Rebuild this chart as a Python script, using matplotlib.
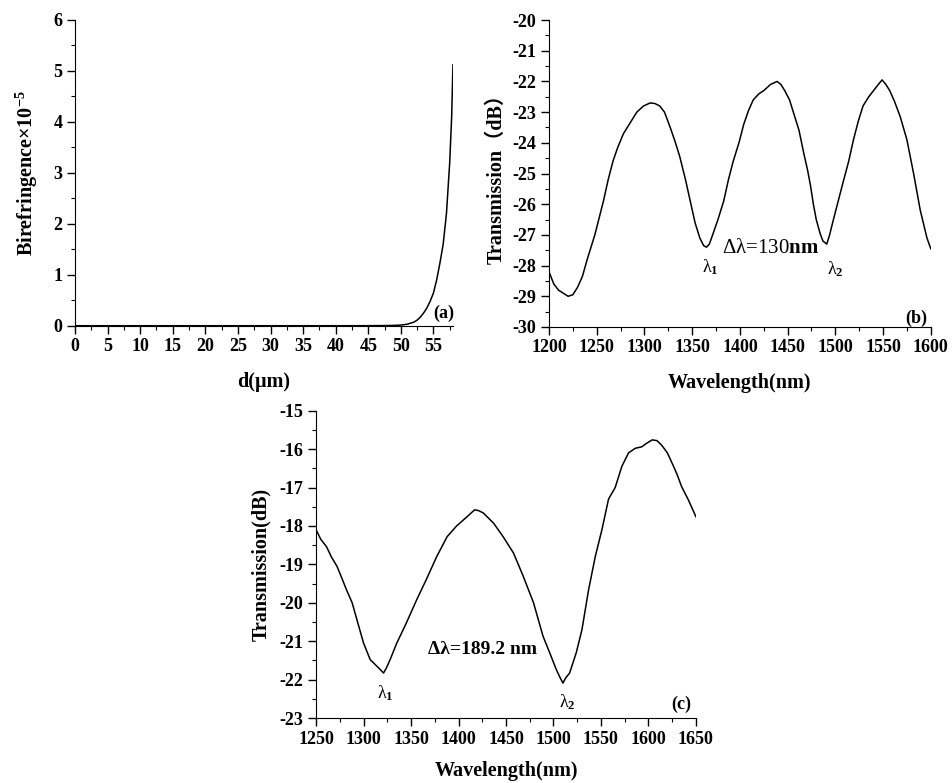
import matplotlib
matplotlib.use('Agg')
from matplotlib import pyplot as plt
from matplotlib.ticker import MultipleLocator

# panel (a): birefringence vs d
d_um = [0, 10, 20, 30, 40, 45, 48, 49, 50, 51, 52, 52.5, 53, 53.5, 54, 54.5,
        55, 55.5, 56, 56.5, 57, 57.5, 57.8, 58]
biref = [0, 0, 0, 0, 0, 0.001, 0.004, 0.007, 0.013, 0.03, 0.07, 0.11, 0.17, 0.25,
         0.35, 0.48, 0.64, 0.9, 1.23, 1.6, 2.2, 3.2, 4.1, 5.12]

# panel (b): transmission spectrum
wl_b = [1200, 1205, 1210, 1215, 1220, 1225, 1230, 1235, 1240, 1248, 1257, 1262, 1267,
        1272, 1278, 1285, 1292, 1299, 1306, 1311, 1316, 1321, 1327, 1332, 1337, 1343,
        1348, 1353, 1358, 1362, 1365, 1368, 1372, 1377, 1383, 1388, 1393, 1399, 1404,
        1409, 1414, 1420, 1425, 1432, 1439, 1443, 1447, 1452, 1456, 1462, 1467, 1471,
        1474, 1477, 1480, 1484, 1487, 1491, 1494, 1498, 1503, 1508, 1514, 1519, 1524,
        1529, 1535, 1540, 1545, 1549, 1553, 1557, 1562, 1568, 1575, 1582, 1589, 1596, 1600]
tr_b = [-28.2, -28.6, -28.8, -28.9, -29.0, -28.95, -28.7, -28.35, -27.8, -27.0, -25.9,
        -25.2, -24.6, -24.15, -23.7, -23.35, -23.0, -22.8, -22.7, -22.72, -22.8, -23.0,
        -23.5, -23.95, -24.45, -25.2, -25.9, -26.6, -27.1, -27.35, -27.4, -27.3, -26.95,
        -26.5, -25.9, -25.2, -24.6, -24.0, -23.4, -22.95, -22.6, -22.4, -22.3, -22.1,
        -22.0, -22.1, -22.3, -22.6, -23.0, -23.6, -24.35, -24.9, -25.4, -26.0, -26.5,
        -26.95, -27.2, -27.3, -27.0, -26.5, -25.9, -25.3, -24.6, -23.9, -23.3, -22.8,
        -22.5, -22.3, -22.1, -21.95, -22.1, -22.3, -22.65, -23.15, -23.9, -25.0, -26.2,
        -27.1, -27.45]

# panel (c): transmission spectrum
wl_c = [1250, 1255, 1261, 1266, 1272, 1277, 1282, 1288, 1293, 1300, 1307, 1314, 1318,
        1321, 1324, 1328, 1335, 1345, 1356, 1366, 1377, 1388, 1398, 1409, 1417, 1421,
        1426, 1437, 1447, 1458, 1468, 1479, 1489, 1496, 1503, 1507, 1510, 1513, 1517,
        1524, 1530, 1537, 1544, 1551, 1558, 1565, 1572, 1579, 1586, 1593, 1598, 1604,
        1609, 1614, 1620, 1625, 1630, 1635, 1642, 1650]
tr_c = [-18.1, -18.35, -18.54, -18.8, -19.05, -19.35, -19.66, -20.0, -20.44, -21.05,
        -21.48, -21.65, -21.75, -21.83, -21.7, -21.48, -21.05, -20.53, -19.92, -19.4,
        -18.8, -18.28, -18.0, -17.76, -17.58, -17.6, -17.66, -17.93, -18.28, -18.71,
        -19.3, -20.0, -20.87, -21.3, -21.74, -21.95, -22.09, -21.95, -21.83, -21.3,
        -20.7, -19.66, -18.8, -18.1, -17.3, -17.0, -16.45, -16.1, -15.98, -15.94,
        -15.85, -15.76, -15.78, -15.9, -16.1, -16.37, -16.65, -16.98, -17.32, -17.76]

plt.rcParams['font.family'] = ['Liberation Serif', 'DejaVu Serif']
plt.rcParams['font.weight'] = 'bold'
plt.rcParams['axes.unicode_minus'] = False
plt.rcParams['mathtext.fontset'] = 'custom'
plt.rcParams['mathtext.rm'] = 'Liberation Serif'
plt.rcParams['mathtext.bf'] = 'Liberation Serif:bold'
plt.rcParams['mathtext.it'] = 'Liberation Serif:italic'

tick_fs = 13
label_fs = 14.5


def style_axis(ax):
    ax.spines['top'].set_visible(False)
    ax.spines['right'].set_visible(False)
    ax.tick_params(which='major', direction='out', length=6, width=1, labelsize=tick_fs, pad=3)
    ax.tick_params(which='minor', direction='out', length=3, width=0.8)
    for lbl in ax.get_xticklabels() + ax.get_yticklabels():
        lbl.set_fontweight('bold')


fig = plt.figure(figsize=(9.52, 7.83), dpi=100)

# (a)
ax1 = fig.add_axes([0.0788, 0.584, 0.397, 0.3905])
ax1.plot(d_um, biref, color='black', lw=1.1)
ax1.set_xlim(0, 58)
ax1.set_ylim(0, 6)
ax1.xaxis.set_major_locator(MultipleLocator(5))
ax1.xaxis.set_minor_locator(MultipleLocator(2.5))
ax1.yaxis.set_major_locator(MultipleLocator(1))
ax1.yaxis.set_minor_locator(MultipleLocator(0.5))
style_axis(ax1)
ax1.set_xlabel('d(μm)', fontsize=label_fs, fontweight='bold', labelpad=12)
ax1.set_ylabel(r'Birefringence×10$^{\mathbf{-5}}$', fontsize=label_fs, fontweight='bold', labelpad=10)
ax1.text(56.6, 0.24, '(a)', fontsize=13, fontweight='bold', ha='center', va='center')

# (b)
ax2 = fig.add_axes([0.5767, 0.5824, 0.401, 0.392])
ax2.plot(wl_b, tr_b, color='black', lw=1.1)
ax2.set_xlim(1200, 1600)
ax2.set_ylim(-30, -20)
ax2.xaxis.set_major_locator(MultipleLocator(50))
ax2.xaxis.set_minor_locator(MultipleLocator(25))
ax2.yaxis.set_major_locator(MultipleLocator(1))
ax2.yaxis.set_minor_locator(MultipleLocator(0.5))
style_axis(ax2)
ax2.set_xlabel('Wavelength(nm)', fontsize=label_fs, fontweight='bold', labelpad=12)
ax2.set_ylabel('Transmission（dB）', fontsize=label_fs, fontweight='bold', labelpad=4,
               family=['Liberation Serif', 'Noto Sans CJK SC'])
ax2.text(1368.7, -28.05, r'λ$_1$', fontsize=13, fontweight='normal', ha='center', va='center')
ax2.text(1499.7, -28.1, r'λ$_2$', fontsize=13, fontweight='normal', ha='center', va='center')
ax2.text(1381, -27.45, r'Δλ=130$\mathbf{nm}$', fontsize=15, fontweight='normal', ha='left', va='center')
ax2.text(1585, -29.73, '(b)', fontsize=13, fontweight='bold', ha='center', va='center')

# (c)
ax3 = fig.add_axes([0.332, 0.083, 0.399, 0.3925])
ax3.plot(wl_c, tr_c, color='black', lw=1.1)
ax3.set_xlim(1250, 1650)
ax3.set_ylim(-23, -15)
ax3.xaxis.set_major_locator(MultipleLocator(50))
ax3.xaxis.set_minor_locator(MultipleLocator(25))
ax3.yaxis.set_major_locator(MultipleLocator(1))
ax3.yaxis.set_minor_locator(MultipleLocator(0.5))
style_axis(ax3)
ax3.set_xlabel('Wavelength(nm)', fontsize=label_fs, fontweight='bold', labelpad=10)
ax3.set_ylabel('Transmission(dB)', fontsize=label_fs, fontweight='bold', labelpad=6)
ax3.text(1322.6, -22.35, r'λ$_1$', fontsize=13, fontweight='normal', ha='center', va='center')
ax3.text(1514.6, -22.6, r'λ$_2$', fontsize=13, fontweight='normal', ha='center', va='center')
ax3.text(1368, -21.22, 'Δλ=189.2 nm', fontsize=14, fontweight='bold', ha='left', va='center')
ax3.text(1635, -22.65, '(c)', fontsize=13, fontweight='bold', ha='center', va='center')

fig.savefig('out.png', dpi=100)
